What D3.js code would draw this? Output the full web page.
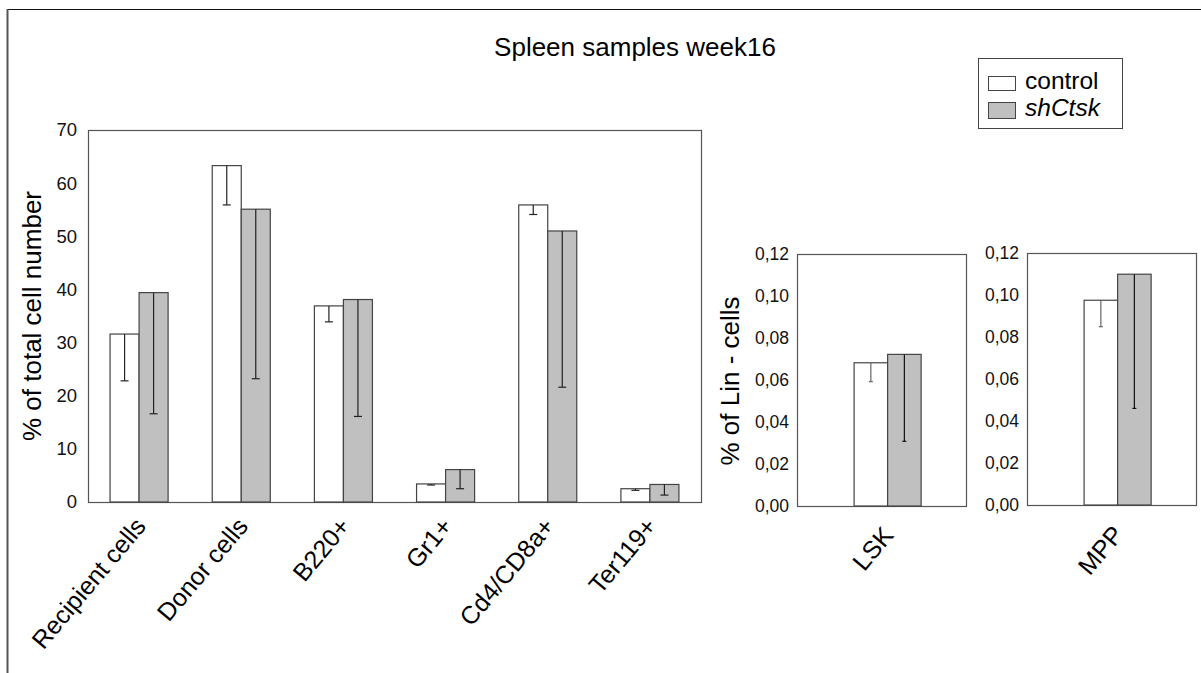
<!DOCTYPE html>
<html>
<head>
<meta charset="utf-8">
<script src="https://cdn.jsdelivr.net/npm/d3@7"></script>
<style>
  body { margin: 0; background: #fff; }
  svg { display: block; font-family: "Liberation Sans", Arial, sans-serif; }
</style>
</head>
<body>
<svg id="chart" width="1201" height="673"></svg>
<script>
const categories = ['Recipient cells', 'Donor cells', 'B220+', 'Gr1+', 'Cd4/CD8a+', 'Ter119+'];
const series = ['control', 'shCtsk'];
const controlMean = [31.6, 63.3, 36.9, 3.4, 55.9, 2.5];
const controlErr = [8.8, 7.4, 3.0, 0.2, 1.8, 0.3];
const shCtskMean = [39.4, 55.1, 38.1, 6.1, 51.0, 3.3];
const shCtskErr = [22.8, 31.9, 22.0, 3.6, 29.4, 2.0];
const totalTicks = [0, 10, 20, 30, 40, 50, 60, 70];

const linCategories = ['LSK', 'MPP'];
const linControlMean = [0.0682, 0.0975];
const linControlErr = [0.0090, 0.0126];
const linShCtskMean = [0.0722, 0.1099];
const linShCtskErr = [0.0414, 0.0639];
const linTicks = [0, 0.02, 0.04, 0.06, 0.08, 0.10, 0.12];

const fills = { control: '#ffffff', shCtsk: '#c0c0c0' };
const commaFormat = d3.formatLocale({ decimal: ',', thousands: '.', grouping: [3], currency: ['', ''] }).format('.2f');

const svg = d3.select('#chart');

// outer frame (only top and left edges are visible)
svg.append('line').attr('x1', 7).attr('y1', 9.5).attr('x2', 1201).attr('y2', 9.5)
  .attr('stroke', '#111').attr('stroke-width', 1.2);
svg.append('line').attr('x1', 7.5).attr('y1', 9).attr('x2', 7.5).attr('y2', 673)
  .attr('stroke', '#555').attr('stroke-width', 2);

svg.append('text')
  .attr('x', 635).attr('y', 56)
  .attr('text-anchor', 'middle')
  .attr('font-size', 26)
  .text('Spleen samples week16');

// legend
const legend = svg.append('g');
legend.append('rect').attr('x', 978.5).attr('y', 58.5).attr('width', 144).attr('height', 70)
  .attr('fill', '#fff').attr('stroke', '#444');
series.forEach((s, i) => {
  legend.append('rect')
    .attr('x', 988.5).attr('y', i === 0 ? 76.5 : 102.5)
    .attr('width', 27).attr('height', i === 0 ? 14 : 16)
    .attr('fill', fills[s]).attr('stroke', '#444');
  legend.append('text')
    .attr('x', 1025).attr('y', i === 0 ? 89 : 116)
    .attr('font-size', 24.5)
    .attr('font-style', i === 0 ? 'normal' : 'italic')
    .text(s);
});

function drawBars(g, x, sub, y, rows, capW, whiskerColor) {
  const groups = g.selectAll('g.grp').data(rows).enter().append('g')
    .attr('class', 'grp')
    .attr('transform', (d) => `translate(${x(d.cat)},0)`);

  const bars = groups.selectAll('g.bar').data((d) => d.vals).enter().append('g')
    .attr('class', 'bar');

  bars.append('rect')
    .attr('x', (d) => sub(d.key))
    .attr('y', (d) => y(d.mean))
    .attr('width', sub.bandwidth())
    .attr('height', (d) => y(0) - y(d.mean))
    .attr('fill', (d) => fills[d.key])
    .attr('stroke', '#444')
    .attr('stroke-width', 1.2);

  bars.append('line')
    .attr('x1', (d) => sub(d.key) + sub.bandwidth() / 2)
    .attr('x2', (d) => sub(d.key) + sub.bandwidth() / 2)
    .attr('y1', (d) => y(d.mean))
    .attr('y2', (d) => y(d.mean - d.err))
    .attr('stroke', (d) => whiskerColor[d.key])
    .attr('stroke-width', 1.2);

  bars.append('line')
    .attr('x1', (d) => sub(d.key) + sub.bandwidth() / 2 - capW / 2)
    .attr('x2', (d) => sub(d.key) + sub.bandwidth() / 2 + capW / 2)
    .attr('y1', (d) => y(d.mean - d.err))
    .attr('y2', (d) => y(d.mean - d.err))
    .attr('stroke', (d) => whiskerColor[d.key])
    .attr('stroke-width', 1.2);
}

function frame(g, x0, y0, x1, y1) {
  g.append('rect')
    .attr('x', x0 + 0.5).attr('y', y0 + 0.5)
    .attr('width', x1 - x0).attr('height', y1 - y0)
    .attr('fill', 'none').attr('stroke', '#555').attr('stroke-width', 1.2);
}

function yAxis(g, y, ticks, fmt, pad, left, size) {
  const ax = g.append('g')
    .attr('transform', `translate(${left},0)`)
    .call(d3.axisLeft(y).tickValues(ticks).tickFormat(fmt).tickSize(0).tickPadding(pad));
  ax.select('.domain').remove();
  ax.selectAll('text').attr('font-size', size).attr('fill', '#111')
    .attr('font-family', '"Liberation Sans", Arial, sans-serif');
}

function xLabels(g, x, names, baseY, dx) {
  g.selectAll('text.xl').data(names).enter().append('text')
    .attr('class', 'xl')
    .attr('text-anchor', 'end')
    .attr('font-size', 25)
    .attr('transform', (d) => `translate(${x(d) + x.bandwidth() / 2 + dx},${baseY}) rotate(-50)`)
    .text((d) => d);
}

// main chart
const main = svg.append('g');
const mx = d3.scaleBand().domain(categories).range([88, 701])
  .paddingInner(0.432).paddingOuter(0.216);
const msub = d3.scaleBand().domain(series).range([0, mx.bandwidth()]);
const my = d3.scaleLinear().domain([0, 70]).range([502, 130]);

frame(main, 88, 130, 701, 502);
yAxis(main, my, totalTicks, d3.format('d'), 11, 88, 18.5);

const mainRows = categories.map((cat, i) => ({
  cat,
  vals: [
    { key: 'control', mean: controlMean[i], err: controlErr[i] },
    { key: 'shCtsk', mean: shCtskMean[i], err: shCtskErr[i] },
  ],
}));
drawBars(main, mx, msub, my, mainRows, 8, { control: '#222', shCtsk: '#222' });
xLabels(main, mx, categories, 527, 8);

main.append('text')
  .attr('transform', 'translate(41,316) rotate(-90)')
  .attr('text-anchor', 'middle')
  .attr('font-size', 26)
  .text('% of total cell number');

// Lin- panels
const panels = [
  { x0: 797, x1: 966, y0: 254, y1: 506 },
  { x0: 1027, x1: 1196, y0: 253, y1: 505 },
];

panels.forEach((p, i) => {
  const g = svg.append('g');
  const px = d3.scaleBand().domain([linCategories[i]]).range([p.x0, p.x1])
    .padding(0.432).align(0.56);
  const psub = d3.scaleBand().domain(series).range([0, px.bandwidth()]);
  const py = d3.scaleLinear().domain([0, 0.12]).range([p.y1, p.y0]);

  frame(g, p.x0, p.y0, p.x1, p.y1);
  yAxis(g, py, linTicks, commaFormat, 8, p.x0, 17.5);

  const rows = [{
    cat: linCategories[i],
    vals: [
      { key: 'control', mean: linControlMean[i], err: linControlErr[i] },
      { key: 'shCtsk', mean: linShCtskMean[i], err: linShCtskErr[i] },
    ],
  }];
  drawBars(g, px, psub, py, rows, 4, { control: '#666', shCtsk: '#111' });
  xLabels(g, px, [linCategories[i]], p.y1 + 30, 7);
});

svg.append('text')
  .attr('transform', 'translate(739,381) rotate(-90)')
  .attr('text-anchor', 'middle')
  .attr('font-size', 26)
  .text('% of Lin - cells');
</script>
</body>
</html>
